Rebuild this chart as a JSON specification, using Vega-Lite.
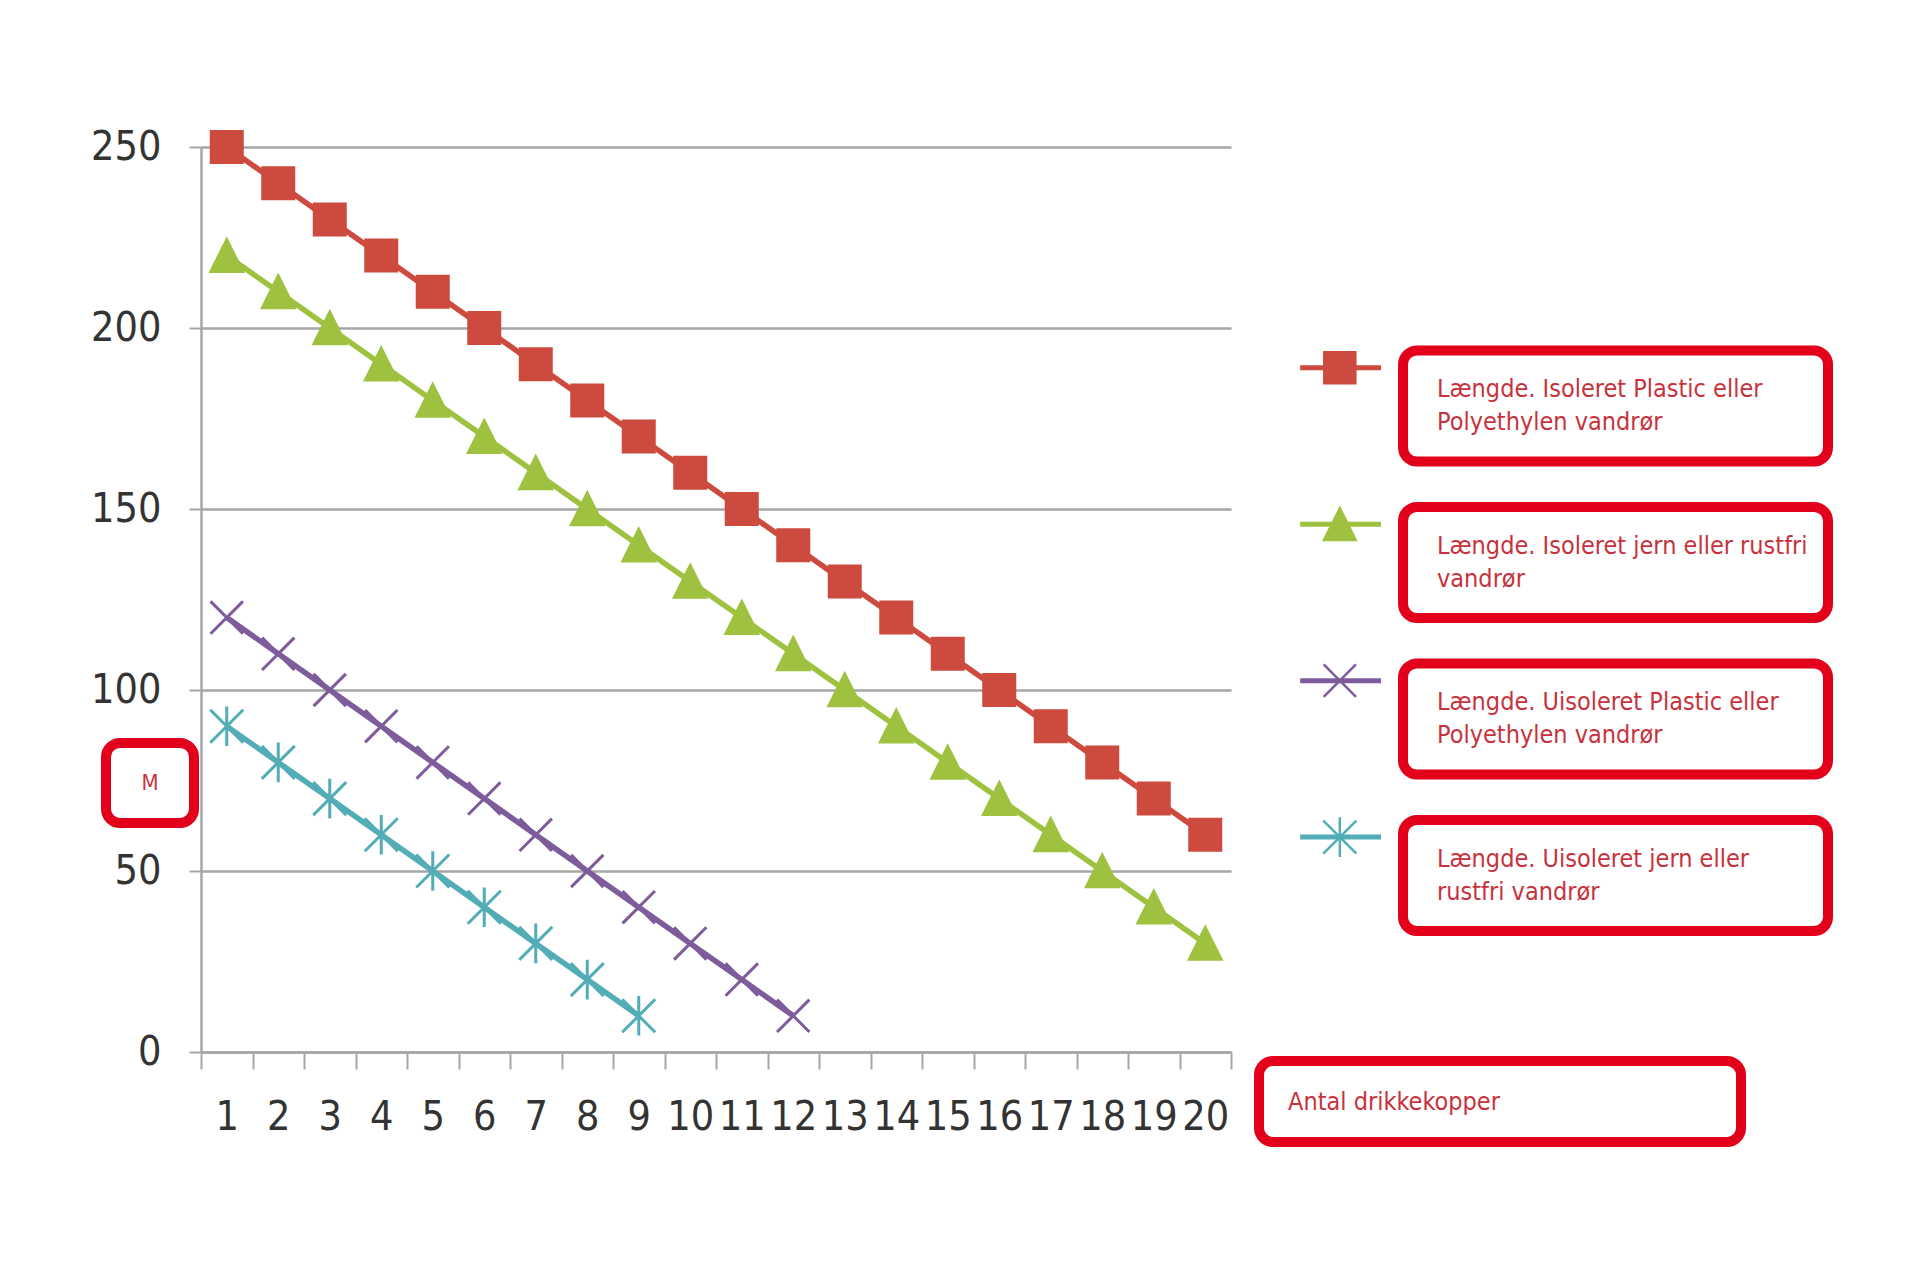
{
  "$schema": "https://vega.github.io/schema/vega-lite/v6.json",
  "background": "white",
  "padding": {"left": 90, "top": 125, "right": 10, "bottom": 10},
  "config": {
    "font": "Liberation Sans Narrow, DejaVu Sans Condensed, Liberation Sans, sans-serif",
    "view": {"stroke": null}
  },
  "datasets": {
    "points": [
      {"serie": "Længde. Isoleret Plastic eller Polyethylen vandrør", "antal": 1, "m": 250},
      {"serie": "Længde. Isoleret Plastic eller Polyethylen vandrør", "antal": 2, "m": 240},
      {"serie": "Længde. Isoleret Plastic eller Polyethylen vandrør", "antal": 3, "m": 230},
      {"serie": "Længde. Isoleret Plastic eller Polyethylen vandrør", "antal": 4, "m": 220},
      {"serie": "Længde. Isoleret Plastic eller Polyethylen vandrør", "antal": 5, "m": 210},
      {"serie": "Længde. Isoleret Plastic eller Polyethylen vandrør", "antal": 6, "m": 200},
      {"serie": "Længde. Isoleret Plastic eller Polyethylen vandrør", "antal": 7, "m": 190},
      {"serie": "Længde. Isoleret Plastic eller Polyethylen vandrør", "antal": 8, "m": 180},
      {"serie": "Længde. Isoleret Plastic eller Polyethylen vandrør", "antal": 9, "m": 170},
      {"serie": "Længde. Isoleret Plastic eller Polyethylen vandrør", "antal": 10, "m": 160},
      {"serie": "Længde. Isoleret Plastic eller Polyethylen vandrør", "antal": 11, "m": 150},
      {"serie": "Længde. Isoleret Plastic eller Polyethylen vandrør", "antal": 12, "m": 140},
      {"serie": "Længde. Isoleret Plastic eller Polyethylen vandrør", "antal": 13, "m": 130},
      {"serie": "Længde. Isoleret Plastic eller Polyethylen vandrør", "antal": 14, "m": 120},
      {"serie": "Længde. Isoleret Plastic eller Polyethylen vandrør", "antal": 15, "m": 110},
      {"serie": "Længde. Isoleret Plastic eller Polyethylen vandrør", "antal": 16, "m": 100},
      {"serie": "Længde. Isoleret Plastic eller Polyethylen vandrør", "antal": 17, "m": 90},
      {"serie": "Længde. Isoleret Plastic eller Polyethylen vandrør", "antal": 18, "m": 80},
      {"serie": "Længde. Isoleret Plastic eller Polyethylen vandrør", "antal": 19, "m": 70},
      {"serie": "Længde. Isoleret Plastic eller Polyethylen vandrør", "antal": 20, "m": 60},
      {"serie": "Længde. Isoleret jern eller rustfri vandrør", "antal": 1, "m": 220},
      {"serie": "Længde. Isoleret jern eller rustfri vandrør", "antal": 2, "m": 210},
      {"serie": "Længde. Isoleret jern eller rustfri vandrør", "antal": 3, "m": 200},
      {"serie": "Længde. Isoleret jern eller rustfri vandrør", "antal": 4, "m": 190},
      {"serie": "Længde. Isoleret jern eller rustfri vandrør", "antal": 5, "m": 180},
      {"serie": "Længde. Isoleret jern eller rustfri vandrør", "antal": 6, "m": 170},
      {"serie": "Længde. Isoleret jern eller rustfri vandrør", "antal": 7, "m": 160},
      {"serie": "Længde. Isoleret jern eller rustfri vandrør", "antal": 8, "m": 150},
      {"serie": "Længde. Isoleret jern eller rustfri vandrør", "antal": 9, "m": 140},
      {"serie": "Længde. Isoleret jern eller rustfri vandrør", "antal": 10, "m": 130},
      {"serie": "Længde. Isoleret jern eller rustfri vandrør", "antal": 11, "m": 120},
      {"serie": "Længde. Isoleret jern eller rustfri vandrør", "antal": 12, "m": 110},
      {"serie": "Længde. Isoleret jern eller rustfri vandrør", "antal": 13, "m": 100},
      {"serie": "Længde. Isoleret jern eller rustfri vandrør", "antal": 14, "m": 90},
      {"serie": "Længde. Isoleret jern eller rustfri vandrør", "antal": 15, "m": 80},
      {"serie": "Længde. Isoleret jern eller rustfri vandrør", "antal": 16, "m": 70},
      {"serie": "Længde. Isoleret jern eller rustfri vandrør", "antal": 17, "m": 60},
      {"serie": "Længde. Isoleret jern eller rustfri vandrør", "antal": 18, "m": 50},
      {"serie": "Længde. Isoleret jern eller rustfri vandrør", "antal": 19, "m": 40},
      {"serie": "Længde. Isoleret jern eller rustfri vandrør", "antal": 20, "m": 30},
      {"serie": "Længde. Uisoleret Plastic eller Polyethylen vandrør", "antal": 1, "m": 120},
      {"serie": "Længde. Uisoleret Plastic eller Polyethylen vandrør", "antal": 2, "m": 110},
      {"serie": "Længde. Uisoleret Plastic eller Polyethylen vandrør", "antal": 3, "m": 100},
      {"serie": "Længde. Uisoleret Plastic eller Polyethylen vandrør", "antal": 4, "m": 90},
      {"serie": "Længde. Uisoleret Plastic eller Polyethylen vandrør", "antal": 5, "m": 80},
      {"serie": "Længde. Uisoleret Plastic eller Polyethylen vandrør", "antal": 6, "m": 70},
      {"serie": "Længde. Uisoleret Plastic eller Polyethylen vandrør", "antal": 7, "m": 60},
      {"serie": "Længde. Uisoleret Plastic eller Polyethylen vandrør", "antal": 8, "m": 50},
      {"serie": "Længde. Uisoleret Plastic eller Polyethylen vandrør", "antal": 9, "m": 40},
      {"serie": "Længde. Uisoleret Plastic eller Polyethylen vandrør", "antal": 10, "m": 30},
      {"serie": "Længde. Uisoleret Plastic eller Polyethylen vandrør", "antal": 11, "m": 20},
      {"serie": "Længde. Uisoleret Plastic eller Polyethylen vandrør", "antal": 12, "m": 10},
      {"serie": "Længde. Uisoleret jern eller rustfri vandrør", "antal": 1, "m": 90},
      {"serie": "Længde. Uisoleret jern eller rustfri vandrør", "antal": 2, "m": 80},
      {"serie": "Længde. Uisoleret jern eller rustfri vandrør", "antal": 3, "m": 70},
      {"serie": "Længde. Uisoleret jern eller rustfri vandrør", "antal": 4, "m": 60},
      {"serie": "Længde. Uisoleret jern eller rustfri vandrør", "antal": 5, "m": 50},
      {"serie": "Længde. Uisoleret jern eller rustfri vandrør", "antal": 6, "m": 40},
      {"serie": "Længde. Uisoleret jern eller rustfri vandrør", "antal": 7, "m": 30},
      {"serie": "Længde. Uisoleret jern eller rustfri vandrør", "antal": 8, "m": 20},
      {"serie": "Længde. Uisoleret jern eller rustfri vandrør", "antal": 9, "m": 10}
    ],
    "legend": [
      {"serie": "Længde. Isoleret Plastic eller Polyethylen vandrør", "label": "Længde. Isoleret Plastic eller\nPolyethylen vandrør"},
      {"serie": "Længde. Isoleret jern eller rustfri vandrør", "label": "Længde. Isoleret jern eller rustfri\nvandrør"},
      {"serie": "Længde. Uisoleret Plastic eller Polyethylen vandrør", "label": "Længde. Uisoleret Plastic eller\nPolyethylen vandrør"},
      {"serie": "Længde. Uisoleret jern eller rustfri vandrør", "label": "Længde. Uisoleret jern eller\nrustfri vandrør"}
    ]
  },
  "spacing": 22,
  "hconcat": [
    {
      "bounds": "flush",
      "spacing": 7,
      "hconcat": [
        {
          "width": 88,
          "height": 905,
          "data": {"values": [{"title": "M"}]},
          "encoding": {
            "y": {"field": "title", "type": "nominal", "axis": null,
                  "scale": {"paddingInner": 0.806, "paddingOuter": 1, "align": 0.7224}}
          },
          "layer": [
            {"mark": {"type": "rect", "fill": "white", "stroke": "#e2001a", "strokeWidth": 10, "cornerRadius": 14}},
            {
              "mark": {"type": "text", "fontSize": 22, "color": "#c8323c", "baseline": "middle"},
              "encoding": {"text": {"field": "title"}}
            }
          ]
        },
        {
          "width": 1030,
          "height": 905,
          "data": {"name": "points"},
          "encoding": {
            "x": {
              "field": "antal", "type": "ordinal", "title": null,
              "scale": {"paddingInner": 0, "paddingOuter": 0},
              "axis": {
                "labelAngle": 0, "labelFontSize": 41, "labelColor": "#333333", "labelPadding": 28,
                "tickBand": "extent", "tickSize": 17, "tickWidth": 2, "tickColor": "#a6a6a6",
                "domainColor": "#a6a6a6", "domainWidth": 2.5, "grid": false
              }
            },
            "y": {
              "field": "m", "type": "quantitative", "title": null,
              "scale": {"domain": [0, 250], "nice": false},
              "axis": {
                "values": [0, 50, 100, 150, 200, 250],
                "labelFontSize": 41, "labelColor": "#333333", "labelPadding": 28,
                "tickSize": 12, "tickWidth": 2, "tickColor": "#a6a6a6",
                "domainColor": "#a6a6a6", "domainWidth": 2.5,
                "grid": true, "gridColor": "#a6a6a6", "gridWidth": 2.5
              }
            },
            "color": {
              "field": "serie", "type": "nominal", "legend": null,
              "scale": {
                "domain": ["Længde. Isoleret Plastic eller Polyethylen vandrør", "Længde. Isoleret jern eller rustfri vandrør", "Længde. Uisoleret Plastic eller Polyethylen vandrør", "Længde. Uisoleret jern eller rustfri vandrør"],
                "range": ["#cd4a3e", "#9ec23f", "#7e5c9c", "#52adb6"]
              }
            }
          },
          "layer": [
            {"mark": {"type": "line", "strokeWidth": 5.5}},
            {
              "mark": {"type": "point", "filled": true, "strokeWidth": 3, "opacity": 1},
              "encoding": {
                "stroke": {
                  "field": "serie", "type": "nominal", "legend": null,
                  "scale": {
                    "domain": ["Længde. Isoleret Plastic eller Polyethylen vandrør", "Længde. Isoleret jern eller rustfri vandrør", "Længde. Uisoleret Plastic eller Polyethylen vandrør", "Længde. Uisoleret jern eller rustfri vandrør"],
                    "range": ["#cd4a3e", "#9ec23f", "#7e5c9c", "#52adb6"]
                  }
                },
                "shape": {
                  "field": "serie", "type": "nominal", "legend": null,
                  "scale": {
                    "domain": ["Længde. Isoleret Plastic eller Polyethylen vandrør", "Længde. Isoleret jern eller rustfri vandrør", "Længde. Uisoleret Plastic eller Polyethylen vandrør", "Længde. Uisoleret jern eller rustfri vandrør"],
                    "range": ["square", "M0,-1L1,1L-1,1Z", "M-1,-1L1,1M-1,1L1,-1", "M-1,-1L1,1M-1,1L1,-1M0,-1.2L0,1.2"]
                  }
                },
                "size": {
                  "field": "serie", "type": "nominal", "legend": null,
                  "scale": {
                    "domain": ["Længde. Isoleret Plastic eller Polyethylen vandrør", "Længde. Isoleret jern eller rustfri vandrør", "Længde. Uisoleret Plastic eller Polyethylen vandrør", "Længde. Uisoleret jern eller rustfri vandrør"],
                    "range": [961, 1089, 900, 784]
                  }
                }
              }
            }
          ]
        }
      ]
    },
    {
      "spacing": 120,
      "vconcat": [
        {
          "bounds": "flush",
          "spacing": 22,
          "hconcat": [
            {
              "width": 122,
              "height": 784,
              "data": {"name": "legend"},
              "encoding": {
                "y": {
                  "field": "serie", "type": "nominal", "axis": null, "bandPosition": 0.155,
                  "scale": {
                    "domain": ["Længde. Isoleret Plastic eller Polyethylen vandrør", "Længde. Isoleret jern eller rustfri vandrør", "Længde. Uisoleret Plastic eller Polyethylen vandrør", "Længde. Uisoleret jern eller rustfri vandrør"],
                    "paddingInner": 0.29, "paddingOuter": 0.65, "align": 1
                  }
                },
                "color": {
                  "field": "serie", "type": "nominal", "legend": null,
                  "scale": {
                    "domain": ["Længde. Isoleret Plastic eller Polyethylen vandrør", "Længde. Isoleret jern eller rustfri vandrør", "Længde. Uisoleret Plastic eller Polyethylen vandrør", "Længde. Uisoleret jern eller rustfri vandrør"],
                    "range": ["#cd4a3e", "#9ec23f", "#7e5c9c", "#52adb6"]
                  }
                }
              },
              "layer": [
                {
                  "mark": {"type": "rule", "strokeWidth": 5},
                  "encoding": {
                    "x": {"datum": 1.35, "type": "quantitative", "scale": {"domain": [0, 4]}, "axis": null},
                    "x2": {"datum": 4}
                  }
                },
                {
                  "mark": {"type": "point", "filled": true, "strokeWidth": 2.5, "opacity": 1},
                  "encoding": {
                    "x": {"datum": 2.65, "type": "quantitative", "scale": {"domain": [0, 4]}, "axis": null},
                    "stroke": {
                      "field": "serie", "type": "nominal", "legend": null,
                      "scale": {
                        "domain": ["Længde. Isoleret Plastic eller Polyethylen vandrør", "Længde. Isoleret jern eller rustfri vandrør", "Længde. Uisoleret Plastic eller Polyethylen vandrør", "Længde. Uisoleret jern eller rustfri vandrør"],
                        "range": ["#cd4a3e", "#9ec23f", "#a898c0", "#9fd0d6"]
                      }
                    },
                    "shape": {
                      "field": "serie", "type": "nominal", "legend": null,
                      "scale": {
                        "domain": ["Længde. Isoleret Plastic eller Polyethylen vandrør", "Længde. Isoleret jern eller rustfri vandrør", "Længde. Uisoleret Plastic eller Polyethylen vandrør", "Længde. Uisoleret jern eller rustfri vandrør"],
                        "range": ["square", "M0,-1L1,1L-1,1Z", "M-1,-1L1,1M-1,1L1,-1", "M-1,-1L1,1M-1,1L1,-1M0,-1.2L0,1.2"]
                      }
                    },
                    "size": {
                      "field": "serie", "type": "nominal", "legend": null,
                      "scale": {
                        "domain": ["Længde. Isoleret Plastic eller Polyethylen vandrør", "Længde. Isoleret jern eller rustfri vandrør", "Længde. Uisoleret Plastic eller Polyethylen vandrør", "Længde. Uisoleret jern eller rustfri vandrør"],
                        "range": [484, 576, 784, 784]
                      }
                    }
                  }
                }
              ]
            },
            {
              "width": 425,
              "height": 784,
              "data": {"name": "legend"},
              "encoding": {
                "y": {
                  "field": "serie", "type": "nominal", "axis": null,
                  "scale": {
                    "domain": ["Længde. Isoleret Plastic eller Polyethylen vandrør", "Længde. Isoleret jern eller rustfri vandrør", "Længde. Uisoleret Plastic eller Polyethylen vandrør", "Længde. Uisoleret jern eller rustfri vandrør"],
                    "paddingInner": 0.29, "paddingOuter": 0.65, "align": 1
                  }
                }
              },
              "layer": [
                {"mark": {"type": "rect", "fill": "white", "stroke": "#e2001a", "strokeWidth": 10, "cornerRadius": 14}},
                {
                  "mark": {"type": "text", "align": "left", "baseline": "middle", "dx": -178.5, "dy": -16.5, "fontSize": 25, "lineHeight": 33, "lineBreak": "\n", "color": "#c8323c"},
                  "encoding": {"text": {"field": "label"}}
                }
              ]
            }
          ]
        },
        {
          "width": 482,
          "height": 81,
          "data": {"values": [{"title": "Antal drikkekopper"}]},
          "layer": [
            {"mark": {"type": "rect", "fill": "white", "stroke": "#e2001a", "strokeWidth": 10, "cornerRadius": 14}, "encoding": {}},
            {
              "mark": {"type": "text", "align": "left", "baseline": "middle", "dx": -212, "fontSize": 25, "color": "#c8323c"},
              "encoding": {"text": {"field": "title"}}
            }
          ]
        }
      ]
    }
  ]
}
